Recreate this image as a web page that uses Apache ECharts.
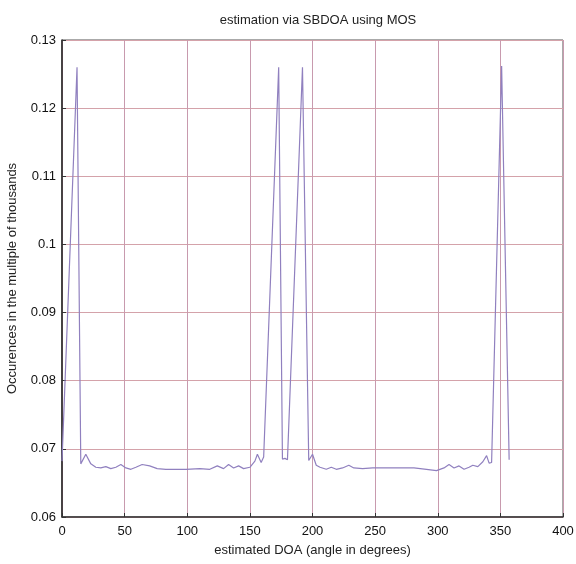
<!DOCTYPE html>
<html>
<head>
<meta charset="utf-8">
<script src="https://cdn.jsdelivr.net/npm/echarts@6/dist/echarts.min.js"></script>
<style>
html,body{margin:0;padding:0;background:#fff;}
#c{width:576px;height:564px;}
</style>
</head>
<body>
<div id="c"></div>
<script>
// Estimated DOA (degrees)
const angles = [0, 12, 15, 16, 19, 23, 27, 31, 35, 39, 43, 47, 51, 55, 59, 64, 70, 76, 83, 91, 99, 110, 118, 124, 129, 133, 137, 141, 145, 150, 154, 156, 159, 161, 173, 176, 177, 178, 180, 181, 192, 197, 200, 203, 206, 211, 215, 219, 224, 229, 233, 240, 248, 259, 270, 281, 291, 299, 305, 309, 313, 317, 321, 325, 328, 332, 336, 339, 341, 343, 351, 357];
// Occurrences (multiple of thousands)
const occurrences = [0.0682, 0.1260, 0.0678, 0.0680, 0.0692, 0.0678, 0.0673, 0.0672, 0.0674, 0.0671, 0.0673, 0.0677, 0.0672, 0.0670, 0.0673, 0.0677, 0.0675, 0.0671, 0.0670, 0.0670, 0.0670, 0.0671, 0.0670, 0.0675, 0.0671, 0.0677, 0.0672, 0.0675, 0.0671, 0.0673, 0.0682, 0.0692, 0.0680, 0.0688, 0.1260, 0.0685, 0.0684, 0.0686, 0.0684, 0.0686, 0.1260, 0.0683, 0.0692, 0.0676, 0.0673, 0.0670, 0.0673, 0.0670, 0.0672, 0.0676, 0.0672, 0.0671, 0.0672, 0.0672, 0.0672, 0.0672, 0.0670, 0.0668, 0.0672, 0.0677, 0.0672, 0.0675, 0.0670, 0.0673, 0.0676, 0.0674, 0.0681, 0.0690, 0.0679, 0.0680, 0.1262, 0.0684];
const yTickLabels = ['0.06', '0.07', '0.08', '0.09', '0.1', '0.11', '0.12', '0.13'];
const xTickLabels = ['0', '50', '100', '150', '200', '250', '300', '350', '400'];

const data = angles.map((a, i) => [a, occurrences[i]]);
const chart = echarts.init(document.getElementById('c'), null, {renderer: 'canvas'});
const font = 'Liberation Sans, Arial, sans-serif';
chart.setOption({
  backgroundColor: '#fff',
  animation: false,
  title: {
    text: 'estimation via SBDOA using MOS',
    left: 313, top: 9, textAlign: 'center',
    textStyle: {fontFamily: font, fontSize: 13, fontWeight: 'normal', color: '#222'}
  },
  grid: {left: 62, right: 13, top: 40, bottom: 47, show: true, borderColor: '#555', borderWidth: 1,
    outerBoundsMode: 'none', containLabel: false},
  xAxis: {
    type: 'value', min: 0, max: 400, interval: 50,
    name: 'estimated DOA (angle in degrees)', nameLocation: 'middle', nameGap: 27,
    nameTextStyle: {fontFamily: font, fontSize: 13, color: '#222'},
    axisLine: {show: true, lineStyle: {color: '#333', width: 1.5}},
    axisTick: {show: true, inside: true, length: 4, lineStyle: {color: '#333'}},
    axisLabel: {fontFamily: font, fontSize: 13, color: '#111', margin: 8,
      formatter: v => xTickLabels[Math.round(v / 50)]},
    splitLine: {show: true, lineStyle: {color: '#c89aae', width: 1}}
  },
  yAxis: {
    type: 'value', min: 0.06, max: 0.13, interval: 0.01,
    name: 'Occurences in the multiple of thousands', nameLocation: 'middle', nameGap: 43,
    nameTextStyle: {fontFamily: font, fontSize: 13, color: '#222'},
    axisLine: {show: true, lineStyle: {color: '#222', width: 1.5}},
    axisTick: {show: true, inside: true, length: 4, lineStyle: {color: '#333'}},
    axisLabel: {fontFamily: font, fontSize: 13, color: '#111', margin: 6,
      formatter: v => yTickLabels[Math.round((v - 0.06) / 0.01)]},
    splitLine: {show: true, lineStyle: {color: '#d4a2aa', width: 1}}
  },
  series: [{
    type: 'line', data: data, showSymbol: false, smooth: false,
    lineStyle: {color: '#9080bf', width: 1.2}
  }]
});
</script>
</body>
</html>
